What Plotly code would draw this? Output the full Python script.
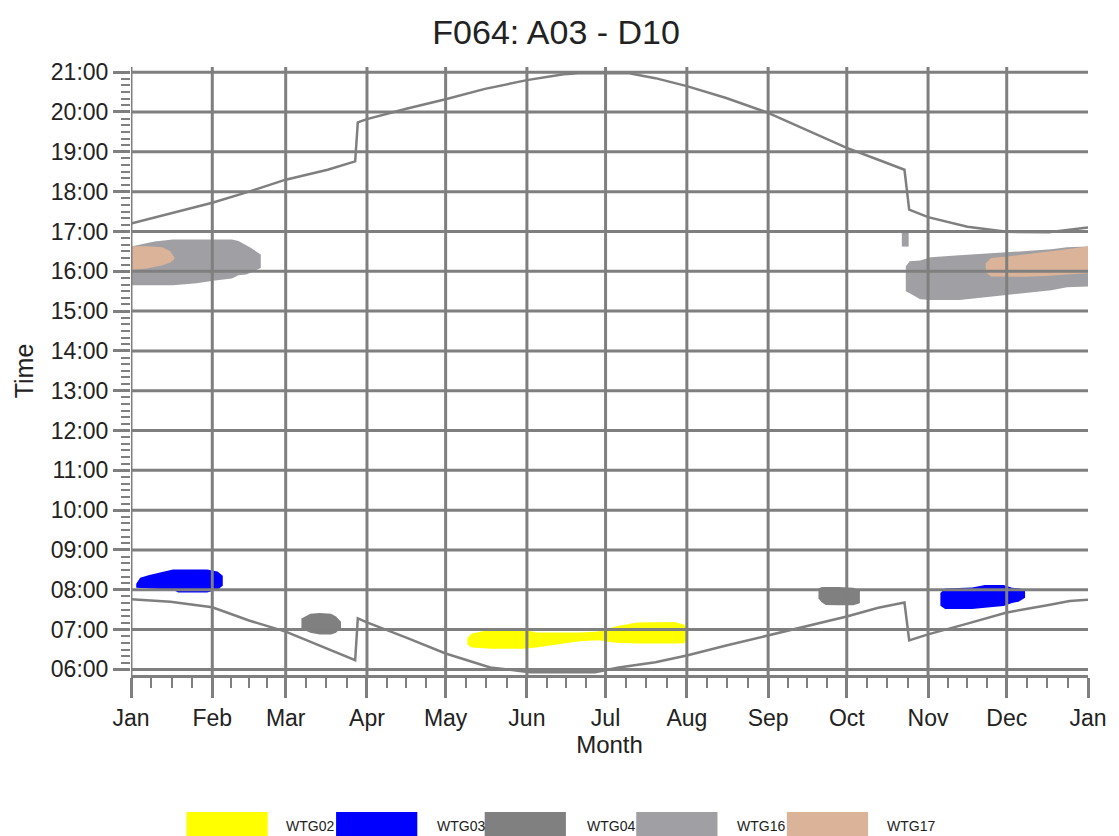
import plotly.graph_objects as go

# ---------------- data ----------------
month_labels = ["Jan", "Feb", "Mar", "Apr", "May", "Jun", "Jul", "Aug", "Sep", "Oct", "Nov", "Dec", "Jan"]
month_starts = [0, 31, 59, 90, 120, 151, 181, 212, 243, 273, 304, 334, 365]
hour_values = list(range(6, 22))
hour_labels = [f"{h:02d}:00" for h in hour_values]

# sunrise / sunset (day of year, decimal hours)
sunset_days = [0, 15, 31, 45, 59, 75, 85.5, 86.5, 90, 105, 120, 135, 151, 165, 172, 190, 200, 212, 227, 243, 258, 273, 285, 295, 296.8, 304, 319, 334, 350, 358, 365]
sunset_time = [17.20, 17.45, 17.72, 18.00, 18.30, 18.55, 18.76, 19.74, 19.82, 20.08, 20.32, 20.58, 20.80, 20.95, 20.98, 20.97, 20.85, 20.65, 20.35, 19.98, 19.55, 19.10, 18.80, 18.55, 17.55, 17.36, 17.12, 16.99, 16.98, 17.05, 17.10]
sunrise_days = [0, 15, 31, 45, 59, 72, 85.5, 86.5, 90, 105, 120, 137, 152, 177, 186, 200, 212, 227, 243, 258, 273, 285, 295, 296.8, 304, 319, 334, 350, 358, 365]
sunrise_time = [7.76, 7.70, 7.56, 7.23, 6.95, 6.60, 6.23, 7.28, 7.18, 6.80, 6.40, 6.05, 5.93, 5.93, 6.05, 6.18, 6.35, 6.60, 6.85, 7.08, 7.33, 7.55, 7.68, 6.73, 6.88, 7.15, 7.43, 7.62, 7.72, 7.75]

# shadow periods: day, start time (lower), end time (upper)
wtg02_days = [128.3, 130, 137.5, 145, 150, 154.5, 161, 166, 171, 178.3, 184.7, 193, 200, 207.4, 211, 212.5]
wtg02_start = [6.62, 6.55, 6.52, 6.52, 6.52, 6.55, 6.60, 6.66, 6.71, 6.73, 6.67, 6.65, 6.65, 6.65, 6.66, 6.75]
wtg02_end = [6.78, 6.90, 7.00, 7.02, 7.00, 6.93, 6.93, 6.93, 6.93, 6.95, 7.08, 7.18, 7.19, 7.19, 7.12, 6.95]

wtg03_jan_days = [2, 3.5, 7, 12, 16, 18, 29, 33, 35]
wtg03_jan_start = [8.05, 8.05, 8.04, 8.01, 8.00, 7.93, 7.93, 8.00, 8.10]
wtg03_jan_end = [8.15, 8.30, 8.37, 8.45, 8.51, 8.51, 8.51, 8.46, 8.35]
wtg03_nov_days = [308.7, 310.5, 320.8, 325.7, 332.8, 336, 338.5, 341]
wtg03_nov_start = [7.60, 7.52, 7.52, 7.55, 7.59, 7.67, 7.70, 7.80]
wtg03_nov_end = [7.92, 8.03, 8.06, 8.12, 8.12, 8.05, 8.04, 8.00]

wtg04_mar_days = [65, 68.4, 72, 76.3, 78.2, 80.1]
wtg04_mar_start = [7.02, 6.92, 6.88, 6.88, 6.92, 7.05]
wtg04_mar_end = [7.28, 7.40, 7.42, 7.40, 7.33, 7.20]
wtg04_oct_days = [262.2, 263.5, 265, 270, 275.5, 278]
wtg04_oct_start = [7.78, 7.68, 7.62, 7.61, 7.61, 7.66]
wtg04_oct_end = [8.03, 8.07, 8.07, 8.07, 8.05, 7.98]

wtg16_jan_days = [0, 9, 16, 25, 32, 38.5, 41, 44, 46, 47.6, 49.5]
wtg16_jan_start = [15.65, 15.65, 15.65, 15.70, 15.77, 15.82, 15.90, 15.92, 15.98, 16.02, 16.08]
wtg16_jan_end = [16.62, 16.75, 16.80, 16.80, 16.80, 16.80, 16.76, 16.66, 16.58, 16.50, 16.42]
wtg16_oct_days = [294, 296.6]
wtg16_oct_start = [16.62, 16.62]
wtg16_oct_end = [17.03, 17.03]
wtg16_nov_days = [295.5, 297, 301, 305, 316, 328, 341, 351, 357, 365]
wtg16_nov_start = [15.50, 15.45, 15.30, 15.28, 15.28, 15.35, 15.45, 15.52, 15.60, 15.62]
wtg16_nov_end = [16.12, 16.25, 16.27, 16.35, 16.40, 16.45, 16.50, 16.55, 16.60, 16.62]

wtg17_jan_days = [0, 6, 12, 15, 16.5]
wtg17_jan_start = [16.03, 16.07, 16.15, 16.22, 16.30]
wtg17_jan_end = [16.63, 16.63, 16.60, 16.50, 16.35]
wtg17_dec_days = [326, 328, 334, 341, 349, 357, 365]
wtg17_dec_start = [15.98, 15.87, 15.86, 15.86, 15.88, 15.92, 15.95]
wtg17_dec_end = [16.20, 16.33, 16.37, 16.42, 16.48, 16.55, 16.63]

legend_names = ["WTG02", "WTG03", "WTG04", "WTG16", "WTG17"]
legend_colors = ["#FFFF00", "#0000FF", "#808080", "#A0A0A4", "#DAB398"]

# ---------------- figure ----------------
GRID = "#7f7f7f"
fig = go.Figure()

blobs = [
    ("WTG02", wtg02_days, wtg02_start, wtg02_end),
    ("WTG03", wtg03_jan_days, wtg03_jan_start, wtg03_jan_end),
    ("WTG03", wtg03_nov_days, wtg03_nov_start, wtg03_nov_end),
    ("WTG04", wtg04_mar_days, wtg04_mar_start, wtg04_mar_end),
    ("WTG04", wtg04_oct_days, wtg04_oct_start, wtg04_oct_end),
    ("WTG16", wtg16_jan_days, wtg16_jan_start, wtg16_jan_end),
    ("WTG16", wtg16_oct_days, wtg16_oct_start, wtg16_oct_end),
    ("WTG16", wtg16_nov_days, wtg16_nov_start, wtg16_nov_end),
    ("WTG17", wtg17_jan_days, wtg17_jan_start, wtg17_jan_end),
    ("WTG17", wtg17_dec_days, wtg17_dec_start, wtg17_dec_end),
]
color_of = dict(zip(legend_names, legend_colors))
for name, d, s, e in blobs:
    fig.add_trace(go.Scatter(
        x=list(d) + list(d)[::-1], y=list(e) + list(s)[::-1],
        mode="lines", fill="toself", fillcolor=color_of[name],
        line=dict(width=0, color=color_of[name]), name=name, showlegend=False,
        hoverinfo="name"))

for d, t in [(sunrise_days, sunrise_time), (sunset_days, sunset_time)]:
    fig.add_trace(go.Scatter(x=d, y=t, mode="lines", line=dict(color=GRID, width=2.5),
                             showlegend=False, hoverinfo="skip"))

# grid lines drawn above the shadow areas
shapes = []
for m in month_starts[:-1]:
    shapes.append(dict(type="line", xref="x", yref="paper", x0=m, x1=m, y0=0, y1=1,
                       line=dict(color=GRID, width=3), layer="above"))
for h in hour_values:
    shapes.append(dict(type="line", xref="paper", yref="y", x0=0, x1=1, y0=h, y1=h,
                       line=dict(color=GRID, width=3), layer="above"))

# manual legend (wide colour boxes)
legend_box_px = [187, 338, 488, 641, 793]
legend_text_px = [285, 438, 589, 741, 892]
PL, PW, PT, PH = 131, 966, 67, 608
def px_to_paper_x(px):
    return (px - PL) / PW
def py_to_paper_y(py):
    return (PT + PH - py) / PH
annotations = []
for bx, tx, nm, col in zip(legend_box_px, legend_text_px, legend_names, legend_colors):
    shapes.append(dict(type="rect", xref="paper", yref="paper",
                       x0=px_to_paper_x(bx), x1=px_to_paper_x(bx + 82),
                       y0=py_to_paper_y(812), y1=py_to_paper_y(840),
                       fillcolor=col, line=dict(width=0)))
    annotations.append(dict(text=nm, xref="paper", yref="paper", x=px_to_paper_x(tx),
                            y=py_to_paper_y(826), xanchor="left", yanchor="middle", showarrow=False,
                            font=dict(family="Liberation Sans, Arial, sans-serif", size=14, color="#222")))

minor_x = []
for a, b in zip(month_starts[:-1], month_starts[1:]):
    minor_x += [a + (b - a) * k / 4 for k in (1, 2, 3)]

FONT = "Liberation Sans, Arial, sans-serif"
fig.update_layout(
    width=1119, height=836,
    margin=dict(l=PL, r=1119 - PL - PW, t=PT, b=836 - PT - PH),
    paper_bgcolor="white", plot_bgcolor="white",
    font=dict(family=FONT, color="#222"),
    title=dict(text="F064: A03 - D10", x=0.497, xref="container", xanchor="center",
               y=1 - 32 / 836, yref="container", yanchor="middle",
               font=dict(size=34, family=FONT, color="#222")),
    shapes=shapes, annotations=annotations,
    xaxis=dict(range=[0, 365], tickmode="array", tickvals=month_starts, ticktext=month_labels,
               ticks="outside", ticklen=20, tickwidth=2.5, tickcolor=GRID,
               showgrid=False, zeroline=False, showline=True, linecolor=GRID, linewidth=3,
               tickfont=dict(size=23, family=FONT, color="#222"),
               minor=dict(tickvals=minor_x, ticks="outside", ticklen=10, tickwidth=2, tickcolor=GRID, showgrid=False),
               title=dict(text="Month", font=dict(size=24, family=FONT, color="#222"), standoff=0)),
    yaxis=dict(range=[5.86, 21.13], tickmode="array", tickvals=hour_values, ticktext=hour_labels,
               ticks="outside", ticklen=17, tickwidth=2.5, tickcolor=GRID,
               showgrid=False, zeroline=False, showline=False,
               tickfont=dict(size=23, family=FONT, color="#222"),
               minor=dict(tick0=6, dtick=1 / 6, ticks="outside", ticklen=9, tickwidth=2, tickcolor=GRID, showgrid=False),
               title=dict(text="Time", font=dict(size=25, family=FONT, color="#222"), standoff=10)),
)

fig.write_html("out.html", post_script="document.body.style.margin='0';",
               config={"displayModeBar": False})
